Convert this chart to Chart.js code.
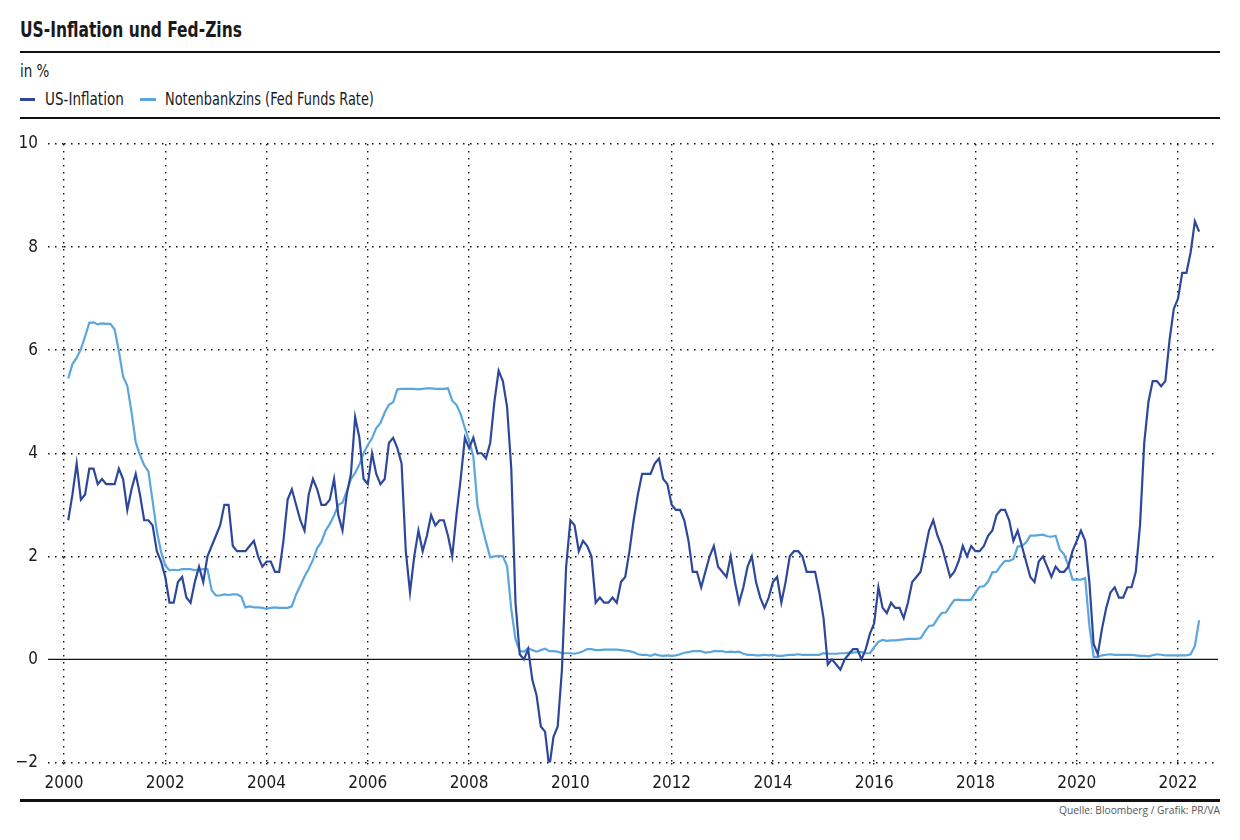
<!DOCTYPE html>
<html><head><meta charset="utf-8">
<script src="https://cdn.jsdelivr.net/npm/chart.js@4.4.1/dist/chart.umd.min.js"></script>
<style>
html,body{margin:0;padding:0;background:#fff;}
body{width:1240px;height:840px;position:relative;overflow:hidden;font-family:"Liberation Sans Narrow","DejaVu Sans Condensed",sans-serif;color:#1a1a1a;}
.t{position:absolute;white-space:nowrap;transform-origin:0 50%;}
#title{left:20px;top:18px;font-size:21px;font-weight:bold;line-height:24px;transform:scaleX(0.82);}
.rule{position:absolute;left:20px;width:1200px;background:#111;}
#sub{left:20px;top:61px;font-size:17px;line-height:20px;transform:scaleX(0.88);}
.lt{top:89px;font-size:17px;line-height:20px;}
.sw{position:absolute;top:98px;height:3px;}
#src{position:absolute;right:20px;top:803px;font-size:11px;line-height:14px;color:#555;font-family:"Open Sans",sans-serif;white-space:nowrap;transform-origin:100% 50%;transform:scaleX(0.93);}
#wrap{position:absolute;left:0;top:120px;width:1240px;height:680px;}
</style></head>
<body>
<div id="title" class="t">US-Inflation und Fed-Zins</div>
<div class="rule" style="top:51px;height:2px;"></div>
<div id="sub" class="t">in %</div>
<div class="sw" style="left:20px;width:15px;background:#2d489b"></div>
<div class="t lt" style="left:45px;transform:scaleX(0.886);">US-Inflation</div>
<div class="sw" style="left:140px;width:16px;background:#5ba6dd"></div>
<div class="t lt" style="left:165px;transform:scaleX(0.846);">Notenbankzins (Fed Funds Rate)</div>
<div class="rule" style="top:117px;height:2px;"></div>
<div id="wrap"><canvas id="c" width="1240" height="680"></canvas></div>
<div class="rule" style="top:799px;height:3px;"></div>
<div id="src">Quelle: Bloomberg / Grafik: PR/VA</div>
<script>
// Monthly values, Jan 2000 - May 2022 (plotted at month end)
const startYear = 2000;
const inflation = [
  2.7,3.2,3.8,3.1,3.2,3.7,3.7,3.4,3.5,3.4,3.4,3.4,
  3.7,3.5,2.9,3.3,3.6,3.2,2.7,2.7,2.6,2.1,1.9,1.6,
  1.1,1.1,1.5,1.6,1.2,1.1,1.5,1.8,1.5,2.0,2.2,2.4,
  2.6,3.0,3.0,2.2,2.1,2.1,2.1,2.2,2.3,2.0,1.8,1.9,
  1.9,1.7,1.7,2.3,3.1,3.3,3.0,2.7,2.5,3.2,3.5,3.3,
  3.0,3.0,3.1,3.5,2.8,2.5,3.2,3.6,4.7,4.3,3.5,3.4,
  4.0,3.6,3.4,3.5,4.2,4.3,4.1,3.8,2.1,1.3,2.0,2.5,
  2.1,2.4,2.8,2.6,2.7,2.7,2.4,2.0,2.8,3.5,4.3,4.1,
  4.3,4.0,4.0,3.9,4.2,5.0,5.6,5.4,4.9,3.7,1.1,0.1,
  0.0,0.2,-0.4,-0.7,-1.3,-1.4,-2.1,-1.5,-1.3,-0.2,1.8,2.7,
  2.6,2.1,2.3,2.2,2.0,1.1,1.2,1.1,1.1,1.2,1.1,1.5,
  1.6,2.1,2.7,3.2,3.6,3.6,3.6,3.8,3.9,3.5,3.4,3.0,
  2.9,2.9,2.7,2.3,1.7,1.7,1.4,1.7,2.0,2.2,1.8,1.7,
  1.6,2.0,1.5,1.1,1.4,1.8,2.0,1.5,1.2,1.0,1.2,1.5,
  1.6,1.1,1.5,2.0,2.1,2.1,2.0,1.7,1.7,1.7,1.3,0.8,
  -0.1,0.0,-0.1,-0.2,0.0,0.1,0.2,0.2,0.0,0.2,0.5,0.7,
  1.4,1.0,0.9,1.1,1.0,1.0,0.8,1.1,1.5,1.6,1.7,2.1,
  2.5,2.7,2.4,2.2,1.9,1.6,1.7,1.9,2.2,2.0,2.2,2.1,
  2.1,2.2,2.4,2.5,2.8,2.9,2.9,2.7,2.3,2.5,2.2,1.9,
  1.6,1.5,1.9,2.0,1.8,1.6,1.8,1.7,1.7,1.8,2.1,2.3,
  2.5,2.3,1.5,0.3,0.1,0.6,1.0,1.3,1.4,1.2,1.2,1.4,
  1.4,1.7,2.6,4.2,5.0,5.4,5.4,5.3,5.4,6.2,6.8,7.0,
  7.5,7.5,7.9,8.5,8.3
];
const fedFunds = [
  5.45,5.73,5.85,6.02,6.27,6.53,6.54,6.50,6.52,6.51,6.51,6.40,
  5.98,5.49,5.31,4.80,4.21,3.97,3.77,3.65,3.07,2.49,2.09,1.82,
  1.73,1.74,1.73,1.75,1.75,1.75,1.73,1.74,1.75,1.75,1.34,1.24,
  1.24,1.26,1.25,1.26,1.26,1.22,1.01,1.03,1.01,1.01,1.00,0.98,
  1.00,1.01,1.00,1.00,1.00,1.03,1.26,1.43,1.61,1.76,1.93,2.16,
  2.28,2.50,2.63,2.79,3.00,3.04,3.26,3.50,3.62,3.78,4.00,4.16,
  4.29,4.49,4.59,4.79,4.94,4.99,5.24,5.25,5.25,5.25,5.25,5.24,
  5.25,5.26,5.26,5.25,5.25,5.25,5.26,5.02,4.94,4.76,4.49,4.24,
  3.94,2.98,2.61,2.28,1.98,2.00,2.01,2.00,1.81,0.97,0.39,0.16,
  0.15,0.22,0.18,0.15,0.18,0.21,0.16,0.16,0.15,0.12,0.12,0.12,
  0.11,0.13,0.16,0.20,0.20,0.18,0.18,0.19,0.19,0.19,0.19,0.18,
  0.17,0.16,0.14,0.10,0.09,0.09,0.07,0.10,0.08,0.07,0.08,0.07,
  0.08,0.10,0.13,0.14,0.16,0.16,0.16,0.13,0.14,0.16,0.16,0.16,
  0.14,0.15,0.14,0.15,0.11,0.09,0.09,0.08,0.08,0.09,0.08,0.09,
  0.07,0.07,0.08,0.09,0.09,0.10,0.09,0.09,0.09,0.09,0.09,0.12,
  0.11,0.11,0.11,0.12,0.12,0.13,0.13,0.14,0.14,0.12,0.12,0.24,
  0.34,0.38,0.36,0.37,0.37,0.38,0.39,0.40,0.40,0.40,0.41,0.54,
  0.65,0.66,0.79,0.90,0.91,1.04,1.15,1.16,1.15,1.15,1.16,1.30,
  1.41,1.42,1.51,1.69,1.70,1.82,1.91,1.91,1.95,2.19,2.20,2.27,
  2.40,2.40,2.41,2.42,2.39,2.38,2.40,2.13,2.04,1.83,1.55,1.55,
  1.55,1.58,0.65,0.05,0.05,0.08,0.09,0.10,0.09,0.09,0.09,0.09,
  0.09,0.08,0.07,0.07,0.06,0.08,0.10,0.09,0.08,0.08,0.08,0.08,
  0.08,0.08,0.10,0.26,0.76
];
const xTickLabels = [2000,2002,2004,2006,2008,2010,2012,2014,2016,2018,2020,2022];
const yTickLabels = [-2,0,2,4,6,8,10];

const monthPos = inflation.map((_, i) => startYear + (i + 1) / 12);
const toPoints = arr => arr.map((v, i) => ({x: monthPos[i], y: v}));

const FONT = '"Liberation Sans Narrow","DejaVu Sans Condensed",sans-serif';

const zeroLine = {
  id: 'zeroLine',
  beforeDatasetsDraw(chart) {
    const {ctx, chartArea} = chart;
    const y = chart.scales.y.getPixelForValue(0);
    ctx.save();
    ctx.strokeStyle = '#111';
    ctx.lineWidth = 1.3;
    ctx.beginPath();
    ctx.moveTo(chartArea.left - 16, y);
    ctx.lineTo(chartArea.right, y);
    ctx.stroke();
    ctx.restore();
  }
};

new Chart(document.getElementById('c'), {
  type: 'line',
  data: {
    datasets: [
      {label: 'US-Inflation', data: toPoints(inflation), borderColor: '#2d489b', borderWidth: 2.2, pointRadius: 0, tension: 0, fill: false},
      {label: 'Notenbankzins (Fed Funds Rate)', data: toPoints(fedFunds), borderColor: '#5ba6dd', borderWidth: 2.2, pointRadius: 0, tension: 0, fill: false}
    ]
  },
  options: {
    responsive: false,
    animation: false,
    devicePixelRatio: 1,
    layout: {padding: {top: 24, right: 22, left: 0, bottom: 0}},
    plugins: {legend: {display: false}, tooltip: {enabled: false}, title: {display: false}},
    scales: {
      x: {
        type: 'linear',
        min: 2000,
        max: 2022.79,
        afterBuildTicks: s => { s.ticks = xTickLabels.map(v => ({value: v})); },
        afterFit: s => { s.height = 37.5; },
        border: {display: false, dash: [1.5, 5.5]},
        grid: {color: '#111', lineWidth: 1.4, tickLength: 5, tickColor: '#111', tickBorderDash: [1.5, 5.5]},
        ticks: {color: '#1a1a1a', font: {family: FONT, size: 17}, padding: 6, maxRotation: 0, autoSkip: false, callback: v => String(v)}
      },
      y: {
        min: -2,
        max: 10,
        afterBuildTicks: s => { s.ticks = yTickLabels.map(v => ({value: v})); },
        afterFit: s => { s.width = 64; },
        border: {display: false, dash: [1.5, 5.5]},
        grid: {
          color: c => (c.tick && c.tick.value === 0) ? 'rgba(0,0,0,0)' : '#111',
          tickColor: c => (c.tick && c.tick.value === 0) ? 'rgba(0,0,0,0)' : '#111',
          lineWidth: 1.4, tickLength: 16, tickBorderDash: [1.5, 5.5]
        },
        ticks: {color: '#1a1a1a', font: {family: FONT, size: 17}, padding: 10, autoSkip: false,
          callback: v => v < 0 ? '\u2212' + Math.abs(v) : String(v)}
      }
    }
  },
  plugins: [zeroLine]
});
</script>
</body></html>
